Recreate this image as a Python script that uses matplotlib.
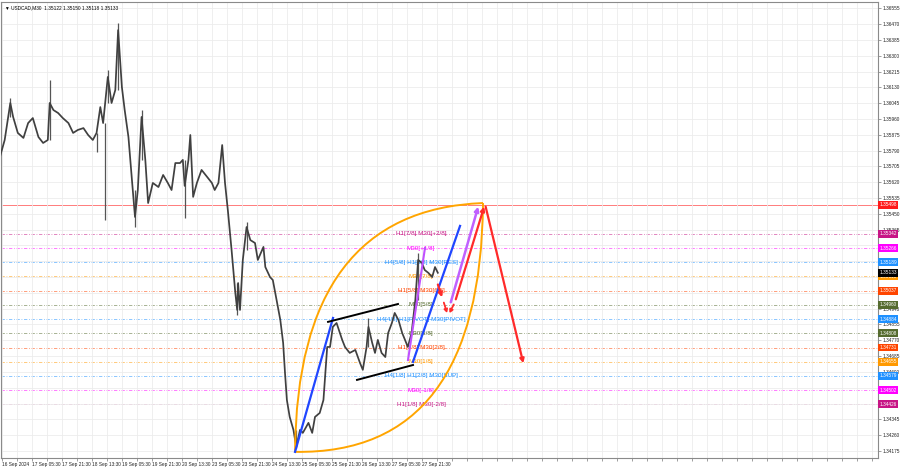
import numpy as np
import matplotlib
matplotlib.use("Agg")
import matplotlib.pyplot as plt
from matplotlib.path import Path
from matplotlib.patches import PathPatch
from matplotlib.transforms import blended_transform_factory

# --- price path (M30 bars) ---
bars = [0, 5, 11, 14, 19, 25, 30, 35, 41, 46, 51, 53, 57, 62, 67, 73, 78, 83, 89, 94,
        99, 103, 107, 110, 115, 119, 123, 126, 130, 133, 137, 141, 144, 147, 151, 155, 158,
        163, 169, 174, 179, 183, 187, 192, 195, 197, 201, 203, 206, 210, 215, 221, 226, 229,
        233, 237, 240, 243, 247, 251, 253, 254, 256, 259, 263, 267, 272, 275, 281, 283, 288,
        291, 295, 299, 302, 304, 306, 309, 313, 316, 320, 323, 329, 333, 336, 341, 345, 349,
        352, 355, 359, 365, 368, 373, 379, 384, 387, 391, 393, 397, 400, 403, 407, 411, 414,
        418, 421, 425, 429, 432, 435, 439, 443, 446, 450, 453, 457, 461, 464, 467]
closes = [1.35757, 1.35847, 1.36046, 1.35971, 1.35885, 1.35858, 1.35938, 1.35965, 1.35863,
          1.35831, 1.35847, 1.36046, 1.36008, 1.35992, 1.35965, 1.35938, 1.35885, 1.35901,
          1.35911, 1.35874, 1.35847, 1.35885, 1.36024, 1.35938, 1.36186, 1.36046, 1.36116,
          1.36438, 1.36132, 1.36008, 1.35863, 1.35616, 1.35433, 1.35578, 1.35971, 1.35740,
          1.35508, 1.35616, 1.35594, 1.35659, 1.35616, 1.35578, 1.35723, 1.35723, 1.35740,
          1.35600, 1.35740, 1.35874, 1.35541, 1.35616, 1.35686, 1.35648, 1.35616, 1.35578,
          1.35616, 1.35820, 1.35616, 1.35471, 1.35256, 1.35025, 1.34933, 1.35078, 1.34933,
          1.35202, 1.35379, 1.35309, 1.35293, 1.35202, 1.35272, 1.35164, 1.35110, 1.35094,
          1.34987, 1.34879, 1.34756, 1.34594, 1.34449, 1.34358, 1.34288, 1.34196, 1.34288,
          1.34272, 1.34326, 1.34272, 1.34358, 1.34379, 1.34449, 1.34734, 1.34734, 1.34842,
          1.34863, 1.34772, 1.34734, 1.34702, 1.34718, 1.34648, 1.34611, 1.34734, 1.34842,
          1.34756, 1.34702, 1.34772, 1.34702, 1.34680, 1.34809, 1.34863, 1.34917, 1.34879,
          1.34809, 1.34772, 1.34734, 1.34809, 1.34987, 1.35202, 1.35186, 1.35148, 1.35132,
          1.35110, 1.35164, 1.35133]

wick_bars = [11, 53, 103, 112, 115, 126, 144, 151, 197, 253, 263, 316, 393, 446]
wick_high = [1.36073, 1.36170, 1.35885, 1.35938, 1.36223, 1.36476, 1.35578, 1.36008,
             1.35740, 1.35078, 1.35406, 1.34288, 1.34890, 1.35240]
wick_low = [1.35971, 1.35847, 1.35782, 1.35417, 1.36046, 1.36116, 1.35379, 1.35740,
            1.35428, 1.34906, 1.35256, 1.34191, 1.34734, 1.34987]

# --- Murrey math levels ---
level_prices = [1.35342, 1.35266, 1.35189, 1.35113, 1.35037, 1.34960, 1.34884,
                1.34808, 1.34731, 1.34655, 1.34579, 1.34502, 1.34426]
level_names = ["H1[7/8] M30[+2/8]", "M30[+1/8]", "H4[5/8] H1[6/8] M30[RES]", "M30[7/8]",
               "H1[5/8] M30[6/8]", "M30[5/8]", "H4[4/8] H1[PIVOT] M30[PIVOT]", "M30[3/8]",
               "H1[3/8] M30[2/8]", "M30[1/8]", "H4[1/8] H1[2/8] M30[SUP]", "M30[-1/8]",
               "H1[1/8] M30[-2/8]"]
level_colors = ["#c71585", "#ff00ff", "#1e90ff", "#ff9900", "#ff4500", "#556b2f", "#1e90ff",
                "#556b2f", "#ff4500", "#ff9900", "#1e90ff", "#ff00ff", "#c71585"]

resistance_price = 1.35498
last_price = 1.35133

time_labels = ["16 Sep 2024", "17 Sep 05:30", "17 Sep 21:30", "18 Sep 13:30", "19 Sep 05:30",
               "19 Sep 21:30", "20 Sep 13:30", "23 Sep 05:30", "23 Sep 21:30", "24 Sep 13:30",
               "25 Sep 05:30", "25 Sep 21:30", "26 Sep 13:30", "27 Sep 05:30", "27 Sep 21:30"]

# --- drawn analysis objects (bar, price) ---
arc_start = (314.7, 1.34170)
arc_end = (515.2, 1.35508)
arc_upper_ctrl = (316.5, 1.35470)
arc_lower_ctrl = (513.0, 1.34154)
blue_lines = [((314.7, 1.34170), (355.2, 1.34890)), ((440.5, 1.34654), (490.7, 1.35385))]
black_lines = [((349.9, 1.34869), (424.5, 1.34965)), ((380.8, 1.34557), (440.5, 1.34637))]
purple_lines = [((435.2, 1.34664), (453.3, 1.35266))]
purple_arrow = ((480.0, 1.34960), (510.9, 1.35503))
red_arrows = [((466.1, 1.35084), (472.5, 1.34987)), ((485.3, 1.34976), (517.3, 1.35503)),
              ((517.3, 1.35503), (558.9, 1.34632))]
red_dashed = [((472.5, 1.34987), (477.9, 1.34901)), ((485.3, 1.34976), (477.9, 1.34901))]

plt.rcParams["font.family"] = ["Liberation Sans", "DejaVu Sans"]
fs = 3.4

fig = plt.figure(figsize=(9, 4.68), dpi=100)
ax = fig.add_axes([1 / 900, 10 / 468, 877 / 900, 456 / 468])
ax.set_xlim(1.07, 936.5)
ax.set_ylim(1.34137, 1.36589)

# price boxes on the right scale (hide the scale labels they cover)
boxes = [(resistance_price, "#ff1a1a")] + list(zip(level_prices, level_colors)) + [(last_price, "#000000")]
box_prices = np.array([b[0] for b in boxes])

# grid + axes
yt = np.round(1.34175 + 0.00085 * np.arange(29), 5)
ax.set_yticks(yt)
ax.set_yticklabels(["" if np.min(np.abs(box_prices - v)) < 0.00018 else f"{v:.5f}" for v in yt])
xt = np.arange(2, 936, 16)
ax.set_xticks(xt)
xl = [""] * len(xt)
for j, lab in enumerate(time_labels):
    xl[2 * j] = lab
ax.set_xticklabels(xl, ha="left")
ax.grid(True, color="#ececec", lw=0.6, zorder=0)
ax.yaxis.tick_right()
ax.tick_params(axis="both", labelsize=fs, length=2, width=0.5, color="#777", labelcolor="#222")
ax.tick_params(axis="y", pad=1.5)
ax.tick_params(axis="x", pad=1)
for s in ax.spines.values():
    s.set_color("#8a8a8a")
    s.set_linewidth(0.8)

# levels (labels sit under the candles)
for p, c, name in zip(level_prices, level_colors, level_names):
    ax.axhline(p, color=c, lw=0.6, alpha=0.6, ls=(0, (4, 2, 1, 2)), zorder=1)
    ax.text(449, p, name, color=c, fontsize=4.5, ha="center", va="center", zorder=2)
ax.axhline(resistance_price, color="#ff5a5a", lw=0.7, alpha=0.8, zorder=1)

# price
ax.vlines(wick_bars, wick_low, wick_high, color="#555555", lw=0.9, zorder=3)
ax.plot(bars, closes, color="#404040", lw=1.25, zorder=3)

# arcs
for ctrl in (arc_upper_ctrl, arc_lower_ctrl):
    path = Path([arc_start, ctrl, arc_end], [Path.MOVETO, Path.CURVE3, Path.CURVE3])
    ax.add_patch(PathPatch(path, fc="none", ec="#ffa500", lw=1.4, zorder=4))

for (a, b) in blue_lines:
    ax.plot([a[0], b[0]], [a[1], b[1]], color="#2046ff", lw=1.6, zorder=4)
for (a, b) in black_lines:
    ax.plot([a[0], b[0]], [a[1], b[1]], color="#000000", lw=1.4, zorder=4)
for (a, b) in purple_lines:
    ax.plot([a[0], b[0]], [a[1], b[1]], color="#c050ff", lw=1.5, zorder=4)
ax.annotate("", xy=purple_arrow[1], xytext=purple_arrow[0],
            arrowprops=dict(arrowstyle="-|>", color="#c060ff", lw=1.8, mutation_scale=6), zorder=5)
for (a, b) in red_arrows:
    ax.annotate("", xy=b, xytext=a,
                arrowprops=dict(arrowstyle="-|>", color="#ff2a2a", lw=1.6, mutation_scale=6), zorder=5)
for (a, b) in red_dashed:
    ax.annotate("", xy=b, xytext=a,
                arrowprops=dict(arrowstyle="-|>", color="#ff2a2a", lw=1.3, ls="--",
                                mutation_scale=5), zorder=5)

tr = blended_transform_factory(ax.transAxes, ax.transData)
for p, c in boxes:
    ax.text(1.0015, p, f"{p:.5f}", transform=tr, fontsize=fs, color="white", ha="left",
            va="center", clip_on=False, zorder=10,
            bbox=dict(boxstyle="square,pad=0.3", fc=c, ec="none"))

ax.text(0.004, 0.988, "\u25bc USDCAD,M30  1.35122 1.35150 1.35118 1.35133", transform=ax.transAxes,
        fontsize=fs, color="#000", ha="left", va="center")

fig.savefig("out.png", dpi=100, facecolor="white")
